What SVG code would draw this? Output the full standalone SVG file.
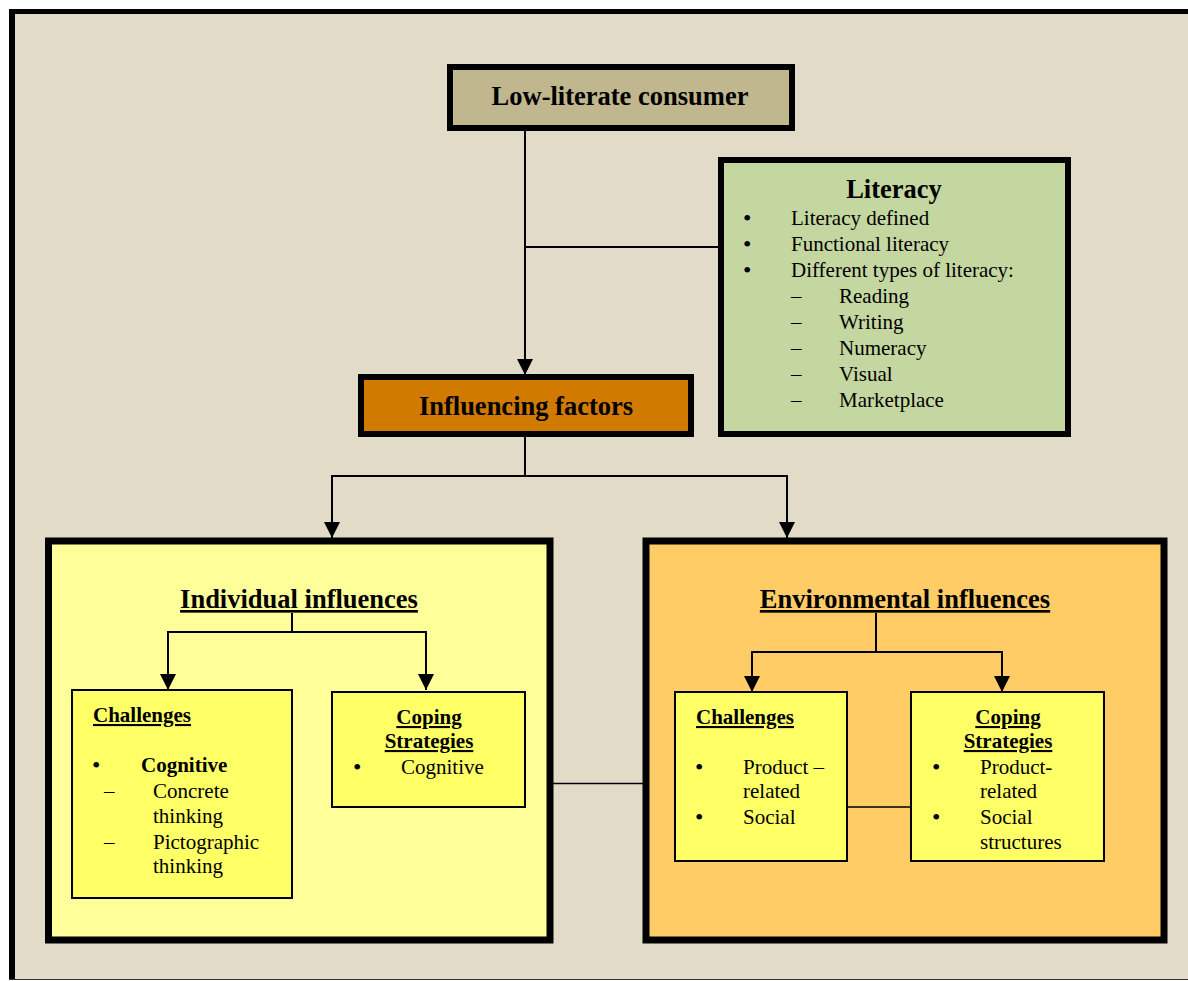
<svg xmlns="http://www.w3.org/2000/svg" width="1188" height="981" viewBox="0 0 1188 981">
  <style>
    text { font-family: "Liberation Serif", "Times New Roman", serif; fill: #000; }
    .title { font-size: 26.5px; font-weight: bold; text-anchor: middle; }
    .head { font-size: 26.5px; font-weight: bold; text-decoration: underline; text-anchor: middle; }
    .sub { font-size: 21px; font-weight: bold; text-decoration: underline; }
    .subc { font-size: 21px; font-weight: bold; text-decoration: underline; text-anchor: middle; }
    .item { font-size: 21px; }
    .bul { font-size: 24px; }
    .bold { font-weight: bold; }
    .heavy { stroke: #000; stroke-width: 6; }
    .frame { stroke: #000; stroke-width: 7; }
    .inner { stroke: #000; stroke-width: 2; fill: #FFFF66; }
    .link { stroke: #000; stroke-width: 2; fill: none; }
    .thin { stroke: #000; stroke-width: 1.5; fill: none; }
  </style>
  <defs>
    <marker id="arrow" markerUnits="userSpaceOnUse" viewBox="0 0 16 16" refX="16" refY="8" markerWidth="16" markerHeight="16" orient="auto">
      <path d="M0,0 L16,8 L0,16 z" fill="#000"/>
    </marker>
  </defs>

  <!-- page background and frame -->
  <rect x="0" y="0" width="1188" height="981" fill="#fff"/>
  <rect x="9" y="9" width="1179" height="971" fill="#E1DBC8"/>
  <line x1="12" y1="9" x2="12" y2="980" stroke="#000" stroke-width="6"/>
  <line x1="9" y1="11.5" x2="1188" y2="11.5" stroke="#000" stroke-width="5"/>
  <line x1="9" y1="979.5" x2="1188" y2="979.5" stroke="#333" stroke-width="1"/>

  <!-- top node -->
  <g id="consumer">
    <rect class="heavy" x="450" y="67" width="342" height="61" fill="#C0B78F"/>
    <text class="title" x="620" y="105">Low-literate consumer</text>
  </g>

  <!-- literacy node -->
  <g id="literacy">
    <rect class="heavy" x="721" y="160" width="347" height="274" fill="#C5D7A0"/>
    <text class="title" x="894" y="198">Literacy</text>
    <g class="item">
      <text class="bul" x="743" y="226">•</text><text x="791" y="225">Literacy defined</text>
      <text class="bul" x="743" y="252">•</text><text x="791" y="251">Functional literacy</text>
      <text class="bul" x="743" y="278">•</text><text x="791" y="277">Different types of literacy:</text>
      <text x="791" y="303">–</text><text x="839" y="303">Reading</text>
      <text x="791" y="329">–</text><text x="839" y="329">Writing</text>
      <text x="791" y="355">–</text><text x="839" y="355">Numeracy</text>
      <text x="791" y="381">–</text><text x="839" y="381">Visual</text>
      <text x="791" y="407">–</text><text x="839" y="407">Marketplace</text>
    </g>
  </g>

  <!-- influencing factors node -->
  <g id="factors">
    <rect class="heavy" x="361" y="377" width="330" height="57" fill="#D07A00"/>
    <text class="title" x="526" y="415">Influencing factors</text>
  </g>

  <!-- individual influences -->
  <g id="individual">
    <rect class="frame" x="48.5" y="541" width="501.5" height="399" fill="#FFFF99"/>
    <text class="head" x="299" y="608">Individual influences</text>
  </g>

  <!-- environmental influences -->
  <g id="environmental">
    <rect class="frame" x="646" y="541" width="518" height="399" fill="#FFCC66"/>
    <text class="head" x="905" y="608">Environmental influences</text>
  </g>

  <!-- connectors -->
  <g id="connectors">
    <line class="link" x1="525" y1="131" x2="525" y2="375" marker-end="url(#arrow)"/>
    <line class="link" x1="525" y1="247" x2="719" y2="247"/>
    <polyline class="link" points="525,437 525,476 332,476 332,538" marker-end="url(#arrow)"/>
    <polyline class="link" points="525,476 787,476 787,538" marker-end="url(#arrow)"/>
    <line class="thin" x1="553" y1="783.5" x2="643" y2="783.5"/>
    <polyline class="link" points="292,613 292,632 168,632 168,690" marker-end="url(#arrow)"/>
    <polyline class="link" points="292,632 426,632 426,690" marker-end="url(#arrow)"/>
    <polyline class="link" points="876,613 876,652 752,652 752,692" marker-end="url(#arrow)"/>
    <polyline class="link" points="876,652 1002,652 1002,692" marker-end="url(#arrow)"/>
    <line class="thin" x1="847" y1="807" x2="911" y2="807"/>
  </g>

  <g id="ind-challenges">
    <rect class="inner" x="72" y="690" width="220" height="208"/>
    <text class="sub" x="93" y="722">Challenges</text>
    <g class="item">
      <text class="bul" x="92" y="773">•</text><text class="bold" x="141" y="772">Cognitive</text>
      <text x="104" y="798">–</text><text x="153" y="798">Concrete</text>
      <text x="153" y="823">thinking</text>
      <text x="104" y="849">–</text><text x="153" y="849">Pictographic</text>
      <text x="153" y="873">thinking</text>
    </g>
  </g>
  <g id="ind-coping">
    <rect class="inner" x="332" y="692" width="193" height="115"/>
    <text class="subc" x="429" y="724">Coping</text>
    <text class="subc" x="429" y="748">Strategies</text>
    <g class="item">
      <text class="bul" x="353" y="775">•</text><text x="401" y="774">Cognitive</text>
    </g>
  </g>

  <g id="env-challenges">
    <rect class="inner" x="675" y="692" width="172" height="169"/>
    <text class="sub" x="696" y="724">Challenges</text>
    <g class="item">
      <text class="bul" x="695" y="775">•</text><text x="743" y="774">Product –</text>
      <text x="743" y="798">related</text>
      <text class="bul" x="695" y="825">•</text><text x="743" y="824">Social</text>
    </g>
  </g>
  <g id="env-coping">
    <rect class="inner" x="911" y="692" width="193" height="169"/>
    <text class="subc" x="1008" y="724">Coping</text>
    <text class="subc" x="1008" y="748">Strategies</text>
    <g class="item">
      <text class="bul" x="932" y="775">•</text><text x="980" y="774">Product-</text>
      <text x="980" y="798">related</text>
      <text class="bul" x="932" y="825">•</text><text x="980" y="824">Social</text>
      <text x="980" y="849">structures</text>
    </g>
  </g>
</svg>
